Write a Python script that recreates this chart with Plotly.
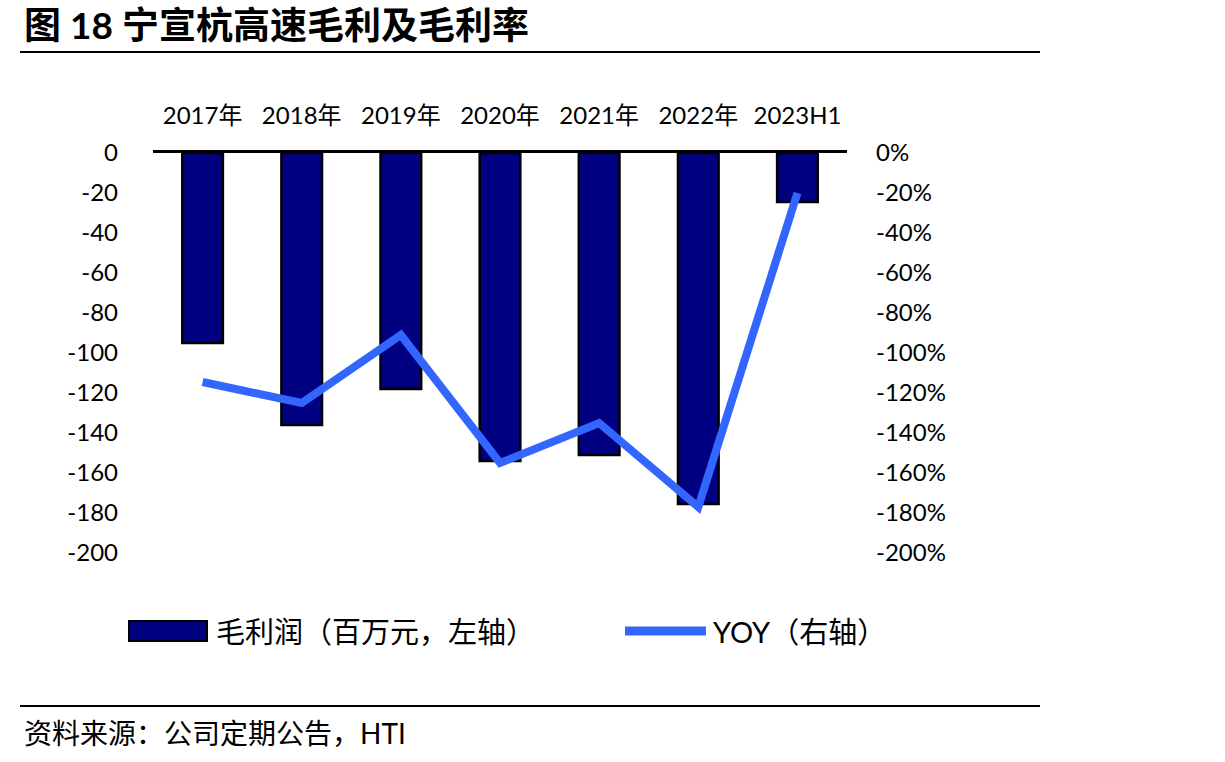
import plotly.graph_objects as go

categories = ["2017年", "2018年", "2019年", "2020年", "2021年", "2022年", "2023H1"]
gross_profit = [-95, -136, -118, -154, -151, -175.5, -24.5]
yoy = [-114.5, -125, -91, -155, -135, -177, -20]
tick_vals = [0, -20, -40, -60, -80, -100, -120, -140, -160, -180, -200]
left_tick_text = [str(v) for v in tick_vals]
right_tick_text = [f"{v}%" for v in tick_vals]

FW, FH = 1225, 762
L, R, T, B = 153, 847, 153, 553
PW, PH = R - L, B - T

def px(x):
    return (x - L) / PW

def py(y):
    return (B - y) / PH

FONT = "Lato, 'Noto Sans CJK SC', sans-serif"
NAVY = "#000080"
BLUE = "#3366FF"

fig = go.Figure()
fig.add_trace(go.Bar(
    x=categories, y=gross_profit, name="毛利润（百万元，左轴）",
    marker=dict(color=NAVY, line=dict(color="black", width=2.5)),
    width=0.41, yaxis="y", showlegend=False,
))
fig.add_trace(go.Scatter(
    x=categories, y=yoy, name="YOY（右轴）", mode="lines",
    line=dict(color=BLUE, width=8), yaxis="y2", showlegend=False,
))

fig.update_layout(
    width=FW, height=FH,
    margin=dict(l=L, r=FW - R, t=T, b=FH - B, pad=0),
    paper_bgcolor="white", plot_bgcolor="white",
    font=dict(family=FONT, size=24, color="black"),
    xaxis=dict(type="category", side="top", showline=True, linecolor="black",
               linewidth=3, showgrid=False, ticks="", zeroline=False,
               ticklabelstandoff=16, tickfont=dict(size=24)),
    yaxis=dict(range=[-200, 0], tickvals=tick_vals, ticktext=left_tick_text,
               showgrid=False, zeroline=False, showline=False, ticks="",
               ticklabelstandoff=34, tickfont=dict(size=24)),
    yaxis2=dict(range=[-200, 0], overlaying="y", side="right",
                tickvals=tick_vals, ticktext=right_tick_text,
                showgrid=False, zeroline=False, showline=False, ticks="",
                ticklabelstandoff=28, tickfont=dict(size=24)),
    showlegend=False,
)

shapes = [
    dict(type="line", xref="paper", yref="paper", x0=px(20), x1=px(1040),
         y0=py(52), y1=py(52), line=dict(color="black", width=2)),
    dict(type="line", xref="paper", yref="paper", x0=px(20), x1=px(1040),
         y0=py(706), y1=py(706), line=dict(color="black", width=2)),
    dict(type="rect", xref="paper", yref="paper", x0=px(129), x1=px(207),
         y0=py(641), y1=py(621), fillcolor=NAVY, line=dict(color="black", width=2)),
    dict(type="line", xref="paper", yref="paper", x0=px(625), x1=px(706),
         y0=py(631), y1=py(631), line=dict(color=BLUE, width=9)),
]
fig.update_layout(shapes=shapes)

ann = [
    dict(text="<b>图 18 宁宣杭高速毛利及毛利率</b>", x=px(22), y=py(25),
         xanchor="left", yanchor="middle", font=dict(size=37)),
    dict(text="毛利润（百万元，左轴）", x=px(214), y=py(631),
         xanchor="left", yanchor="middle", font=dict(size=29)),
    dict(text="YOY（右轴）", x=px(711), y=py(631),
         xanchor="left", yanchor="middle", font=dict(size=29)),
    dict(text="资料来源：公司定期公告，HTI", x=px(22), y=py(733),
         xanchor="left", yanchor="middle", font=dict(size=28)),
]
for a in ann:
    a.update(xref="paper", yref="paper", showarrow=False)
fig.update_layout(annotations=ann)

fig.write_html("out.html")
